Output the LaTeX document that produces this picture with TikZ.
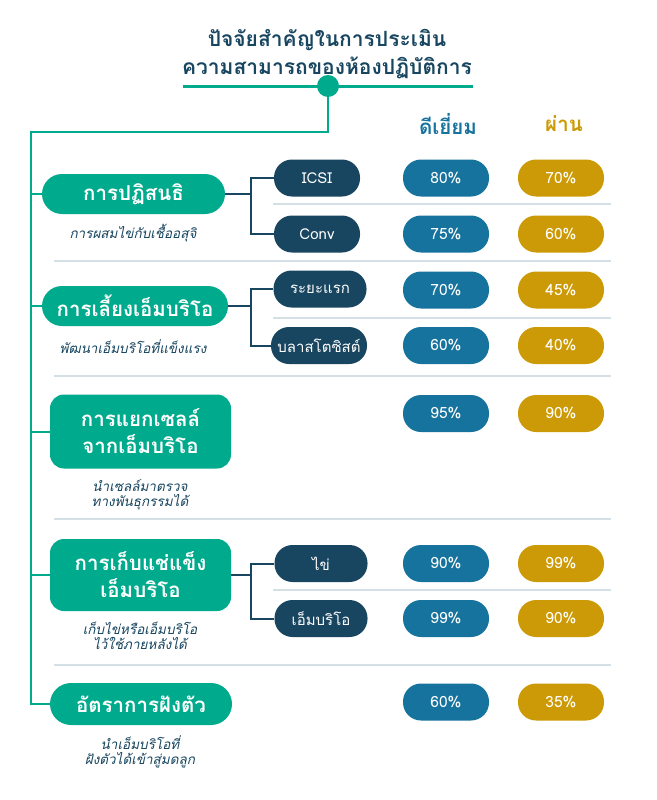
\documentclass[tikz,border=0pt]{standalone}
\usepackage{fontspec}
\newfontfamily\thai[Script=Thai]{Loma}
\definecolor{cgreen}{RGB}{0,170,140}
\definecolor{cnavy}{RGB}{24,70,96}
\definecolor{cblue}{RGB}{22,115,158}
\definecolor{cgold}{RGB}{204,154,6}
\definecolor{csep}{RGB}{212,224,230}
\tikzset{
  catpill/.style={fill=cgreen, text=white, rounded corners=20pt, inner sep=0pt, align=center,
    font=\thai\bfseries\fontsize{20.5}{24}\selectfont},
  catbox/.style={fill=cgreen, text=white, rounded corners=14pt, inner sep=0pt, align=center,
    minimum width=181pt, minimum height=74pt, font=\thai\bfseries\fontsize{20.5}{27}\selectfont},
  subpill/.style={fill=cnavy, text=white, rounded corners=18pt, inner sep=0pt,
    minimum height=37pt, font=\thai\fontsize{15}{17}\selectfont},
  bluepill/.style={fill=cblue, text=white, rounded corners=18pt, inner sep=0pt,
    minimum width=86pt, minimum height=37pt, font=\thai\fontsize{15.5}{17}\selectfont},
  goldpill/.style={fill=cgold, text=white, rounded corners=18pt, inner sep=0pt,
    minimum width=86pt, minimum height=37pt, font=\thai\fontsize{15.5}{17}\selectfont},
  subtitle/.style={text=cnavy, align=center, inner sep=0pt, font=\thai\itshape\fontsize{13.5}{15.5}\selectfont},
  sepline/.style={draw=csep, line width=1.3pt},
  trunk/.style={draw=cgreen, line width=2pt},
  branch/.style={draw=cnavy, line width=2pt},
}
\begin{document}
\begin{tikzpicture}[x=1pt,y=-1pt]
\useasboundingbox[fill=white] (0,0) rectangle (656,800);
% title
\node[text=cnavy, font=\thai\bfseries\fontsize{21}{28}\selectfont, align=center] (title) at (327,54)
  {ปัจจัยสำคัญในการประเมิน\\ความสามารถของห้องปฏิบัติการ};
\coordinate (tl) at (183,86);
\coordinate (tr) at (473,86);
\draw[trunk, line width=3pt] (tl) -- (tr);
\node[circle, fill=cgreen, minimum size=22pt, inner sep=0pt] (dot) at (328,86) {};
% headers
\node[text=cblue, font=\thai\bfseries\fontsize{20.5}{22}\selectfont] (h1) at (448,124) {ดีเยี่ยม};
\node[text=cgold, font=\thai\bfseries\fontsize{20.5}{22}\selectfont] (h2) at (564,124) {ผ่าน};
% separators
\coordinate (s1a) at (273,204); \coordinate (s1b) at (611,204);
\coordinate (s2a) at (54,261);  \coordinate (s2b) at (611,261);
\coordinate (s3a) at (273,318); \coordinate (s3b) at (611,318);
\coordinate (s4a) at (54,376);  \coordinate (s4b) at (611,376);
\coordinate (s5a) at (54,519);  \coordinate (s5b) at (611,519);
\coordinate (s6a) at (273,590); \coordinate (s6b) at (611,590);
\coordinate (s7a) at (54,665);  \coordinate (s7b) at (611,665);
\foreach \a/\b in {s1a/s1b,s2a/s2b,s3a/s3b,s4a/s4b,s5a/s5b,s6a/s6b,s7a/s7b}
  \draw[sepline] (\a) -- (\b);
% categories
\node[catpill, minimum width=183pt, minimum height=40pt] (c1) at (133.5,194) {การปฏิสนธิ};
\node[catpill, minimum width=186pt, minimum height=40pt] (c2) at (135,306) {การเลี้ยงเอ็มบริโอ};
\node[catbox] (c3) at (140.5,431.5) {การแยกเซลล์\\จากเอ็มบริโอ};
\node[catbox, minimum height=72pt] (c4) at (140.5,575) {การเก็บแช่แข็ง\\เอ็มบริโอ};
\node[catpill, minimum width=182pt, minimum height=42pt, rounded corners=21pt] (c5) at (141,704) {อัตราการฝังตัว};
% subtitles
\node[subtitle] (t1) at (133,233) {การผสมไข่กับเชื้ออสุจิ};
\node[subtitle] (t2) at (133,347) {พัฒนาเอ็มบริโอที่แข็งแรง};
\node[subtitle] (t3) at (140,495) {นำเซลล์มาตรวจ\\ทางพันธุกรรมได้};
\node[subtitle] (t4) at (140,636) {เก็บไข่หรือเอ็มบริโอ\\ไว้ใช้ภายหลังได้};
\node[subtitle] (t5) at (140,752) {นำเอ็มบริโอที่\\ฝังตัวได้เข้าสู่มดลูก};
% trunk
\coordinate (tk0) at (328,132);
\coordinate (tk1) at (31,132);
\coordinate (tk5) at (31,704);
\draw[trunk, line join=miter] (dot.south) -- (tk0) -- (tk1) -- (tk5) -- (c5.west);
\foreach \c in {c1,c2,c3,c4}
  \draw[trunk] (\c.west) -- (31,0 |- \c.west);
% sub nodes
\node[subpill, minimum width=86pt] (n11) at (317,178) {ICSI};
\node[subpill, minimum width=86pt] (n12) at (317,234) {Conv};
\node[subpill, minimum width=93pt] (n21) at (320,289) {ระยะแรก};
\node[subpill, minimum width=96pt] (n22) at (319,345.5) {บลาสโตซิสต์};
\node[subpill, minimum width=93pt] (n41) at (321,563.5) {ไข่};
\node[subpill, minimum width=93pt] (n42) at (321,618.5) {เอ็มบริโอ};
\foreach \c/\a/\b in {c1/n11/n12,c2/n21/n22,c4/n41/n42}{
  \draw[branch] (\c.east) -- (251,0 |- \c.east);
  \draw[branch, line join=miter] (\a.west) -| (251,0 |- \a.west) |- (\b.west);
}
% values
\foreach \y/\p/\q in {178/80/70,234/75/60,290/70/45,345.5/60/40,413.5/95/90,563.5/90/99,618.5/99/90,702/60/35}{
  \node[bluepill] at (446,\y) {\p\%};
  \node[goldpill] at (561,\y) {\q\%};
}
\end{tikzpicture}
\end{document}
